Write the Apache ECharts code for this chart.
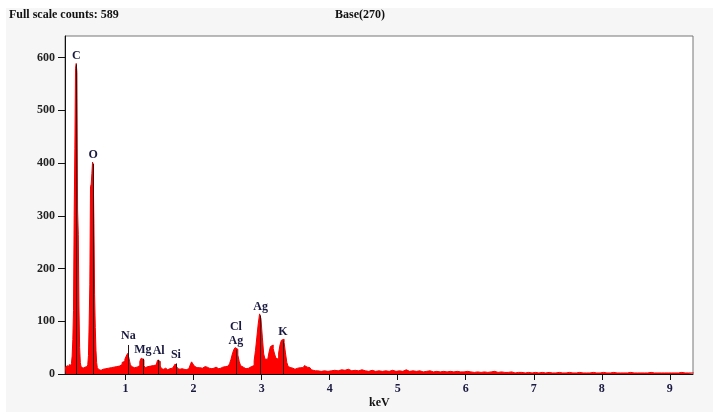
<!DOCTYPE html>
<html><head><meta charset="utf-8">
<script src="https://cdn.jsdelivr.net/npm/echarts@6/dist/echarts.min.js"></script>
<style>
html,body{margin:0;padding:0;background:#fff;}
#bg{position:absolute;left:6px;top:8px;width:707px;height:404px;background:#f6f6f6;}
#chart{position:absolute;left:0;top:0;width:720px;height:419px;}
</style></head><body>
<div id="bg"></div><div id="chart"></div>
<script>
// Channel calibration for each stretch of the spectrum (keV)
const fineStart = 0.11, fineStep = 0.01;
const midStart = 0.60, midStep = 0.02;
const tailStart = 3.85, tailStep = 0.05;

// Counts
const countsFine = [
  12,14,10,13,16,12,15,18,14,16,
  20,34,65,120,300,427,580,589,572,311,
  265,127,50,22,14,12,13,11,12,14,
  13,12,15,14,18,35,95,169,355,360,
  380,402,376,286,150,88,45,22,12
];
const countsMid = [
  10,8,7,9,8,10,9,11,10,12,11,13,12,14,13,15,16,18,22,24,
  28,34,39,30,18,14,
  12,10,13,12,16,24,30,27,16,12,
  14,12,15,13,16,14,17,
  20,26,24,15,
  10,9,11,9,8,10,9,11,12,
  15,19,14,10,
  9,10,8,9,8,9,
  10,13,17,23,19,15,12,14,12,
  13,11,12,14,12,13,11,12,10,12,11,13,12,10,12,11,13,12,14,13,15,
  16,20,28,38,46,50,47,36,24,16,13,
  12,10,13,11,12,14,13,16,
  25,45,70,95,114,105,70,38,28,
  28,30,42,52,55,48,38,30,28,
  40,55,64,66,60,40,22,14,
  12,10,11,9,10,11,10,12,15,12,14,16,13,15,12,10,8,7,6,6
];
const countsTail = [
  5,6,5,6,
  7,6,8,7,9,6,7,6,8,6,5,7,5,6,5,6,5,7,5,6,
  5,8,5,6,5,6,4,5,6,4,5,4,5,4,5,4,5,4,4,5,
  4,3,4,3,4,3,4,5,3,4,3,3,4,2,3,3,2,3,2,3,
  2,3,2,3,2,2,3,2,2,3,2,2,3,2,2,2,3,2,2,3,
  2,2,3,2,2,2,2,3,2,2,2,2,2,3,2,2,2,2,2,2,
  2,2,3,2,2,2,2
];

// Element markers
const elementNames = ['C','O','Na','Mg','Al','Si','Cl\nAg','Ag','K'];
const elementKeV   = [0.277,0.525,1.041,1.254,1.487,1.740,2.622,2.984,3.313];
const markerTop    = [587,399,55,29,27,20,46,111,63];

const xTicks = [1,2,3,4,5,6,7,8,9];
const yTicks = [0,100,200,300,400,500,600];

const spectrum = [];
countsFine.forEach((c,i)=>spectrum.push([+(fineStart+i*fineStep).toFixed(3), c]));
countsMid.forEach((c,i)=>spectrum.push([+(midStart+i*midStep).toFixed(3), c]));
countsTail.forEach((c,i)=>spectrum.push([+(tailStart+i*tailStep).toFixed(3), c]));

const serif = '"Liberation Serif","Times New Roman",serif';
const chart = echarts.init(document.getElementById('chart'), null, {renderer:'canvas'});
chart.setOption({
  animation:false,
  backgroundColor:'transparent',
  grid:{left:65, right:27, top:36, bottom:45, show:true, backgroundColor:'#fff', borderColor:'#777', borderWidth:1},
  xAxis:{
    type:'value', min:0.11, max:9.34,
    axisLine:{show:true, onZero:false, lineStyle:{color:'#111', width:1}},
    axisTick:{show:true, customValues:xTicks, length:6, lineStyle:{color:'#111'}},
    axisLabel:{customValues:xTicks, margin:9, fontFamily:serif, fontWeight:'bold', fontSize:12, color:'#1a1a40'},
    splitLine:{show:false}
  },
  yAxis:{
    type:'value', min:0, max:641,
    axisLine:{show:true, lineStyle:{color:'#111', width:1}},
    axisTick:{show:true, customValues:yTicks, length:7, lineStyle:{color:'#111'}},
    axisLabel:{customValues:yTicks, margin:10, fontFamily:serif, fontWeight:'bold', fontSize:12, color:'#222'},
    splitLine:{show:false}
  },
  graphic:[
    {type:'text', left:9, top:9, style:{text:'Full scale counts: 589', font:'bold 12px '+serif, fill:'#111'}},
    {type:'text', left:335, top:9, style:{text:'Base(270)', font:'bold 12px '+serif, fill:'#111'}},
    {type:'text', left:369, top:397, style:{text:'keV', font:'bold 12px '+serif, fill:'#111'}}
  ],
  series:[{
    type:'line', data:spectrum, step:'middle', symbol:'none',
    lineStyle:{color:'#ee0000', width:1},
    areaStyle:{color:'#ff0000', opacity:1},
    markLine:{
      silent:true, animation:false, symbol:['none','none'],
      lineStyle:{color:'#2a1010', width:1, type:'solid'},
      label:{show:true, position:'end', distance:2, formatter:p=>p.name,
        fontFamily:serif, fontWeight:'bold', fontSize:12, color:'#1a1a40', lineHeight:14},
      data: elementNames.map((n,i)=>[{name:n, coord:[elementKeV[i],0]},{coord:[elementKeV[i],markerTop[i]]}])
    }
  }]
});
</script>
</body></html>
